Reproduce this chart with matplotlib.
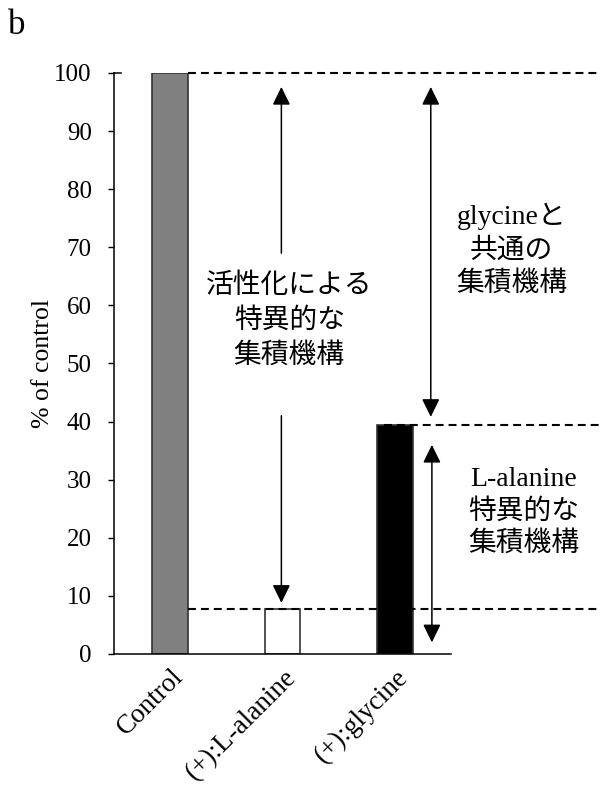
import matplotlib
matplotlib.use("Agg")
import matplotlib.pyplot as plt
import matplotlib.transforms as mtransforms

plt.rcParams["font.family"] = ["Liberation Serif", "Noto Sans CJK JP"]

# data
categories = ["Control", "(+):L-alanine", "(+):glycine"]
values = [100, 7.8, 39.4]
bar_colors = ["#808080", "white", "black"]
y_ticks = list(range(0, 101, 10))

# annotation texts
txt_specific = "活性化による\n特異的な\n集積機構"
txt_common = "glycineと\n共通の\n集積機構"
txt_alanine = "L-alanine\n特異的な\n集積機構"

fig = plt.figure(figsize=(6.01, 7.87), dpi=100)
ax = fig.add_axes([0.1897, 0.169, 0.5607, 0.7383])

x = range(len(categories))
ax.bar(x, values, width=0.32, color=bar_colors, edgecolor="#333333",
       linewidth=1.2, zorder=2)

ax.set_xlim(-0.5, 2.5)
ax.set_ylim(0, 100)
ax.set_yticks(y_ticks)
ax.tick_params(axis="y", direction="out", length=4, width=1, pad=12, labelsize=18)
ax.tick_params(axis="x", length=0, pad=14)
ax.set_xticks(list(x))
ax.set_xticklabels(categories, rotation=45, ha="right", va="center",
                   rotation_mode="anchor", fontsize=19.5)
# nudge the slanted labels a little to the right, like the original
shift = mtransforms.ScaledTranslation(7 / 72, 0, fig.dpi_scale_trans)
for lbl in ax.get_xticklabels():
    lbl.set_transform(lbl.get_transform() + shift)
for s in ("top", "right"):
    ax.spines[s].set_visible(False)
for s in ("left", "bottom"):
    ax.spines[s].set_linewidth(1.1)

# small inward mark at the top of the y axis
ax.plot([-0.5, -0.44], [100, 100], color="black", lw=1.1, clip_on=False)

ax.set_ylabel("% of control", fontsize=18.5, labelpad=0)

# dashed reference lines reaching out past the axes
x_far = 3.83
dash = dict(colors="black", linestyles=(0, (3.8, 2.4)), linewidth=1.5,
            clip_on=False, zorder=3)
ax.hlines(values[0], 0.16, x_far, **dash)
ax.hlines(values[1], 0.16, x_far, **dash)
ax.hlines(values[2], 1.9, x_far, **dash)


def arrow(xpos, y_from, y_to, style):
    ax.annotate("", xy=(xpos, y_to), xytext=(xpos, y_from),
                arrowprops=dict(arrowstyle=style + ",head_length=0.55,head_width=0.27",
                                mutation_scale=20, color="black", lw=1.1,
                                shrinkA=0, shrinkB=0),
                annotation_clip=False, zorder=4)


# split arrow over the L-alanine bar
arrow(0.99, 69, values[0] - 2.4, "-|>")
arrow(0.99, 41, values[1] + 1.0, "-|>")
# glycine side
arrow(2.32, values[2] + 1.4, values[0] - 2.4, "<|-|>")
arrow(2.33, 2.0, values[2] - 3.4, "<|-|>")

ax.text(1.06, 57.3, txt_specific, ha="center", va="center", fontsize=20,
        linespacing=1.45, zorder=5)
ax.text(3.04, 69.5, txt_common, ha="center", va="center", fontsize=20,
        linespacing=1.4, clip_on=False)
ax.text(3.15, 24.4, txt_alanine, ha="center", va="center", fontsize=20,
        linespacing=1.35, clip_on=False)

fig.text(0.013, 0.957, "b", fontsize=25, ha="left", va="baseline")

fig.savefig("out.png", dpi=100)
